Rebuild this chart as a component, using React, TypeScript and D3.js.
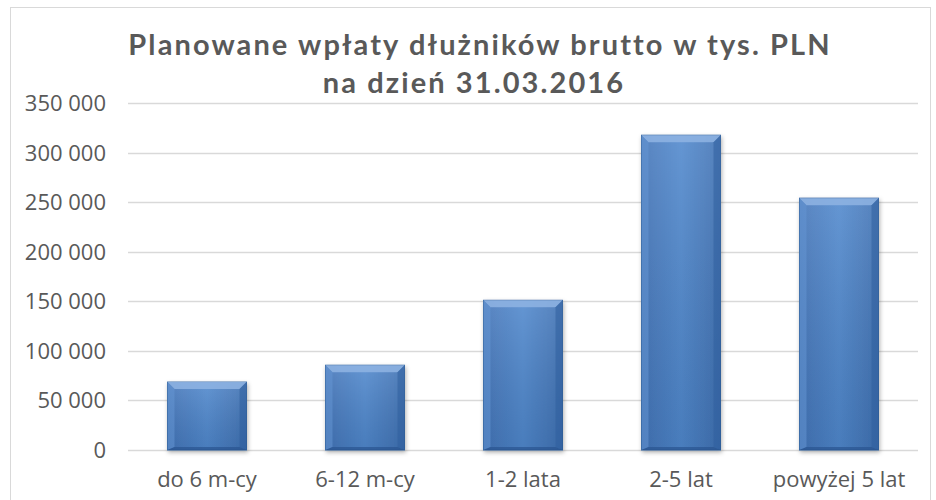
import React, { useEffect, useRef } from 'react';
import * as d3 from 'd3';

const categories = ['do 6 m-cy', '6-12 m-cy', '1-2 lata', '2-5 lat', 'powyżej 5 lat'];
const values = [68500, 85500, 151000, 317500, 254000];
const yTicks = [0, 50000, 100000, 150000, 200000, 250000, 300000, 350000];
const titleLines = ['Planowane wpłaty dłużników brutto w tys. PLN', 'na dzień 31.03.2016'];

const W = 936;
const H = 500;

const App = () => {
  const svgRef = useRef<SVGSVGElement>(null);

  useEffect(() => {
    const svg = d3.select(svgRef.current);
    svg.selectAll('*').remove();

    const margin = { top: 103, right: 18, bottom: 50, left: 128 };

    const x = d3
      .scaleBand()
      .domain(categories)
      .range([margin.left, W - margin.right])
      .paddingInner(0.5)
      .paddingOuter(0.25);

    const y = d3
      .scaleLinear()
      .domain([0, 350000])
      .range([H - margin.bottom, margin.top]);

    const fmt = (v: number) => d3.format(',')(v).replace(/,/g, ' ');

    const defs = svg.append('defs');
    const grad = defs
      .append('linearGradient')
      .attr('id', 'barGrad')
      .attr('x1', '0%')
      .attr('x2', '100%');
    grad.append('stop').attr('offset', '0%').attr('stop-color', '#4274b8');
    grad.append('stop').attr('offset', '50%').attr('stop-color', '#5088cd');
    grad.append('stop').attr('offset', '100%').attr('stop-color', '#3f71b3');

    const vgrad = defs
      .append('linearGradient')
      .attr('id', 'barShade')
      .attr('x1', '0%')
      .attr('x2', '0%')
      .attr('y1', '0%')
      .attr('y2', '100%');
    vgrad.append('stop').attr('offset', '0%').attr('stop-color', '#fff').attr('stop-opacity', 0.12);
    vgrad.append('stop').attr('offset', '100%').attr('stop-color', '#000').attr('stop-opacity', 0.08);

    const shadow = defs.append('filter').attr('id', 'shadow').attr('x', '-20%').attr('y', '-20%').attr('width', '140%').attr('height', '140%');
    shadow.append('feDropShadow').attr('dx', 1).attr('dy', 2).attr('stdDeviation', 2).attr('flood-color', '#000').attr('flood-opacity', 0.3);

    // chart frame
    svg
      .append('rect')
      .attr('x', 10.5)
      .attr('y', 7.5)
      .attr('width', 920)
      .attr('height', 500)
      .attr('fill', '#fff')
      .attr('stroke', '#d9d9d9');

    // gridlines
    svg
      .append('g')
      .selectAll('line')
      .data(yTicks)
      .enter()
      .append('line')
      .attr('x1', margin.left)
      .attr('x2', W - margin.right)
      .attr('y1', d => Math.round(y(d)) + 0.5)
      .attr('y2', d => Math.round(y(d)) + 0.5)
      .attr('stroke', '#d9d9d9')
      .attr('stroke-width', 1.5);

    // y labels
    svg
      .append('g')
      .selectAll('text')
      .data(yTicks)
      .enter()
      .append('text')
      .attr('x', 106)
      .attr('y', d => y(d) + 8)
      .attr('text-anchor', 'end')
      .attr('font-family', '"Open Sans", sans-serif')
      .attr('font-size', 22)
      .attr('fill', '#595959')
      .text(d => fmt(d));

    // bars
    const bw = x.bandwidth();
    const bev = 7;
    const bars = svg
      .append('g')
      .selectAll('g')
      .data(values)
      .enter()
      .append('g')
      .attr('transform', (d, i) => `translate(${x(categories[i])},${y(d)})`);

    bars
      .append('rect')
      .attr('width', bw)
      .attr('height', d => y(0) - y(d))
      .attr('fill', 'url(#barGrad)')
      .attr('stroke', '#33639f')
      .attr('stroke-width', 1)
      .attr('filter', 'url(#shadow)');

    bars
      .append('rect')
      .attr('width', bw)
      .attr('height', d => y(0) - y(d))
      .attr('fill', 'url(#barShade)');

    // bevel top
    bars
      .append('path')
      .attr('d', `M0,0 L${bw},0 L${bw - bev},${bev} L${bev},${bev} Z`)
      .attr('fill', '#8fb4e3')
      .attr('opacity', 0.85);
    // bevel left
    bars
      .append('path')
      .attr('d', d => `M0,0 L${bev},${bev} L${bev},${y(0) - y(d) - 3} L0,${y(0) - y(d)} Z`)
      .attr('fill', '#6595d4')
      .attr('opacity', 0.55);
    // bevel right
    bars
      .append('path')
      .attr('d', d => `M${bw},0 L${bw - bev},${bev} L${bw - bev},${y(0) - y(d) - 3} L${bw},${y(0) - y(d)} Z`)
      .attr('fill', '#2f5f9f')
      .attr('opacity', 0.55);
    // bevel bottom
    bars
      .append('path')
      .attr('d', d => {
        const h = y(0) - y(d);
        return `M0,${h} L${bev},${h - 3} L${bw - bev},${h - 3} L${bw},${h} Z`;
      })
      .attr('fill', '#2a5490')
      .attr('opacity', 0.7);

    // category labels
    svg
      .append('g')
      .selectAll('text')
      .data(categories)
      .enter()
      .append('text')
      .attr('x', d => (x(d) as number) + bw / 2)
      .attr('y', 487)
      .attr('text-anchor', 'middle')
      .attr('font-family', '"Open Sans", sans-serif')
      .attr('font-size', 22)
      .attr('fill', '#595959')
      .text(d => d);

    // title
    svg
      .append('g')
      .selectAll('text')
      .data(titleLines)
      .enter()
      .append('text')
      .attr('x', (d, i) => (i === 0 ? 480 : 474))
      .attr('y', (d, i) => 55 + i * 38)
      .attr('text-anchor', 'middle')
      .attr('font-family', 'Lato, sans-serif')
      .attr('font-weight', 'bold')
      .attr('font-size', 29)
      .attr('letter-spacing', 2.1)
      .attr('fill', '#595959')
      .text(d => d);
  }, []);

  return (
    <div style={{ position: 'absolute', left: 0, top: 0, width: W, height: H, overflow: 'hidden' }}>
      <svg ref={svgRef} width={W} height={H}></svg>
    </div>
  );
};

export default App;
